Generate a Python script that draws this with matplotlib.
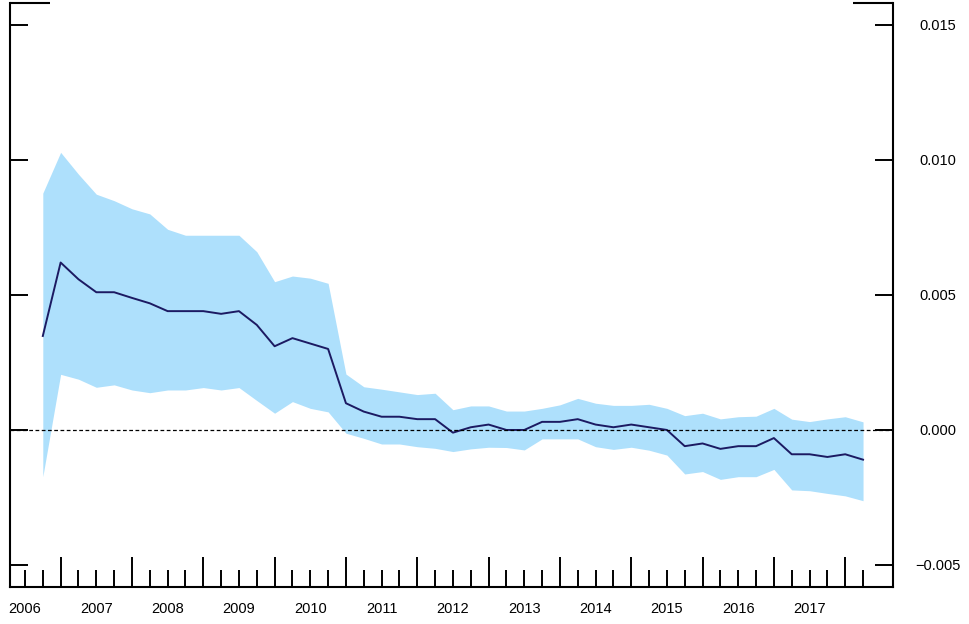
import numpy as np
import matplotlib
matplotlib.use("Agg")
import matplotlib.pyplot as plt
from matplotlib.ticker import FixedLocator, NullFormatter

plt.rcParams['font.family'] = ['Liberation Sans', 'DejaVu Sans']

# quarterly estimates, 2006Q2 .. 2017Q4
dates = 2006.25 + 0.25 * np.arange(47)

estimate = [0.00348, 0.0062, 0.00558, 0.0051, 0.0051, 0.00489, 0.00469, 0.0044,
            0.0044, 0.0044, 0.0043, 0.0044, 0.00389, 0.0031, 0.0034, 0.0032,
            0.0030, 0.00099, 0.00068, 0.00049, 0.00049, 0.0004, 0.0004, -0.0001,
            0.0001, 0.0002, 0.0, 0.0, 0.0003, 0.0003, 0.0004, 0.0002,
            0.0001, 0.0002, 0.0001, 0.0, -0.0006, -0.0005, -0.0007, -0.0006,
            -0.0006, -0.0003, -0.0009, -0.0009, -0.001, -0.0009, -0.0011]

upper = [0.00877, 0.01028, 0.00947, 0.00873, 0.00849, 0.00819, 0.0080, 0.00743,
         0.00721, 0.00721, 0.00721, 0.00721, 0.0066, 0.00549, 0.0057, 0.00562,
         0.00543, 0.00207, 0.0016, 0.00151, 0.00141, 0.00131, 0.00136, 0.00075,
         0.00089, 0.00089, 0.0007, 0.0007, 0.0008, 0.00093, 0.00117, 0.00099,
         0.00091, 0.00091, 0.00095, 0.0008, 0.00053, 0.00062, 0.00041, 0.00049,
         0.00051, 0.0008, 0.0004, 0.00031, 0.00041, 0.00049, 0.0003]

lower = [-0.00173, 0.00206, 0.00188, 0.00158, 0.00167, 0.00148, 0.00138, 0.00148,
         0.00148, 0.00157, 0.00148, 0.00157, 0.00109, 0.00062, 0.00105, 0.0008,
         0.00067, -0.00012, -0.00031, -0.00052, -0.00052, -0.00062, -0.00068, -0.0008,
         -0.0007, -0.00064, -0.00065, -0.00074, -0.00033, -0.00033, -0.00033, -0.00062,
         -0.00072, -0.00064, -0.00075, -0.00093, -0.00163, -0.00154, -0.00183, -0.00173,
         -0.00173, -0.00146, -0.00222, -0.00225, -0.00235, -0.00244, -0.00262]

years = np.arange(2006, 2018)
yticks = [-0.005, 0.0, 0.005, 0.010, 0.015]

fig = plt.figure(figsize=(9.7, 6.24), dpi=100)
ax = fig.add_axes([10 / 970, 37 / 624, 883 / 970, 584 / 624])

ax.fill_between(dates, lower, upper, color='#aee0fc', lw=0)
ax.plot(dates, estimate, color='#1c1a62', lw=1.4)
ax.axhline(0, color='black', lw=0.9, ls=(0, (3, 2)))

ax.set_xlim(2005.79, 2018.17)
ax.set_ylim(-0.005815, 0.01581)

# frame: full left/right/bottom, only short stubs on top
for s in ['left', 'right', 'bottom']:
    ax.spines[s].set_linewidth(1.5)
ax.spines['top'].set_visible(False)
for xs in ([0, 0.0453], [1 - 0.0453, 1]):
    ax.plot(xs, [1, 1], color='black', lw=1.5, transform=ax.transAxes,
            clip_on=False, solid_capstyle='butt')

# y axis: inward ticks on both sides, labels on the right
ax.yaxis.set_major_locator(FixedLocator(yticks))
ax.yaxis.set_ticklabels(['\u22120.005', '0.000', '0.005', '0.010', '0.015'])
ax.tick_params(axis='y', which='major', direction='in', length=13, width=1.4,
               left=True, right=True, labelleft=False, labelright=True,
               labelsize=10.5, pad=32)
for lab in ax.get_yticklabels():
    lab.set_ha('center')

# x axis: quarter ticks, long ticks mid-year, year labels at year start
ax.xaxis.set_major_locator(FixedLocator(years))
ax.xaxis.set_ticklabels([str(y) for y in years])
ax.xaxis.set_minor_locator(FixedLocator(np.concatenate([years + 0.25, years + 0.75])))
ax.xaxis.set_minor_formatter(NullFormatter())
ax.tick_params(axis='x', which='both', direction='in', length=12.2, width=1.4,
               labelsize=10.5, pad=11)

mid = ax.secondary_xaxis('bottom')
mid.xaxis.set_major_locator(FixedLocator(years + 0.5))
mid.xaxis.set_major_formatter(NullFormatter())
mid.tick_params(axis='x', direction='in', length=21.6, width=1.4)
mid.spines['bottom'].set_visible(False)

fig.savefig('out.png', dpi=100)
